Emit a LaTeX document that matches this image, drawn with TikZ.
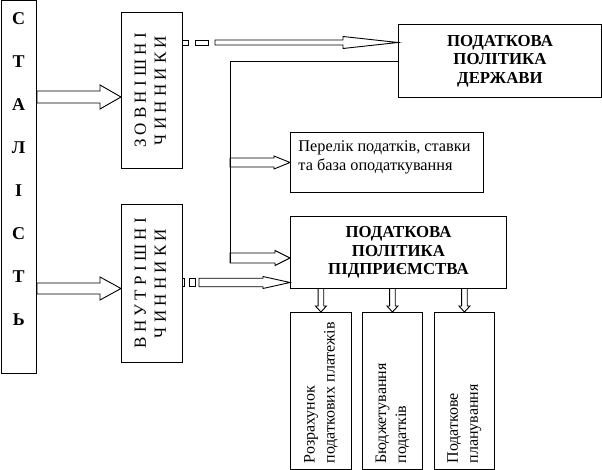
\documentclass[tikz,border=0pt]{standalone}
\usepackage{fontspec}
\usepackage{graphicx}
\setmainfont{Liberation Serif}
\usetikzlibrary{calc}
\begin{document}
\begin{tikzpicture}[x=1pt,y=-1pt,line width=0.9pt,
  box/.style={draw,rectangle,inner sep=0pt,anchor=north west,font=\fontsize{16}{20}\selectfont},
  factorbox/.style={box,font=\fontsize{17}{20}\selectfont},
  boldbox/.style={box,align=center,font=\fontsize{16.8}{18.5}\selectfont\bfseries},
  harrow/.style n args={3}{to path={let \p1=(\tikztostart), \p2=(\tikztotarget) in
     (\x1,\y1+#1pt) -- (\x2-#3pt,\y1+#1pt) -- (\x2-#3pt,\y1+#2pt) -- (\x2,\y1)
     -- (\x2-#3pt,\y1-#2pt) -- (\x2-#3pt,\y1-#1pt) -- (\x1,\y1-#1pt) -- cycle}},
  varrow/.style n args={3}{to path={let \p1=(\tikztostart), \p2=(\tikztotarget) in
     (\x1-#1pt,\y1) -- (\x1-#1pt,\y2+#3pt) -- (\x1-#2pt,\y2+#3pt) -- (\x1,\y2)
     -- (\x1+#2pt,\y2+#3pt) -- (\x1+#1pt,\y2+#3pt) -- (\x1+#1pt,\y1)}},
  piece/.style={draw}
]
\useasboundingbox (0,0) rectangle (602,470);

% left box
\node[box,minimum width=35.5,minimum height=372] (st) at (0.5,0.5)
  {\parbox[c][372pt][t]{35pt}{\fontsize{18}{42.9}\selectfont\bfseries\centering\vspace*{12pt}С\\Т\\А\\Л\\І\\С\\Т\\Ь\par}};

% factor boxes
\node[factorbox,minimum width=61,minimum height=156] (zov) at (121,12)
  {\rotatebox{90}{\begin{tabular}{@{}c@{}}З О В Н І Ш Н І\\Ч И Н Н И К И\end{tabular}}};
\node[factorbox,minimum width=61,minimum height=158] (vnu) at (121,204)
  {\rotatebox{90}{\begin{tabular}{@{}c@{}}В Н У Т Р І Ш Н І\\Ч И Н Н И К И\end{tabular}}};

% policy boxes
\node[boldbox,minimum width=203,minimum height=73] (derzh) at (398,24)
  {ПОДАТКОВА\\ПОЛІТИКА\\ДЕРЖАВИ};
\node[boldbox,minimum width=216,minimum height=72] (pidpr) at (290,216)
  {ПОДАТКОВА\\ПОЛІТИКА\\ПІДПРИЄМСТВА};
\node[box,inner xsep=8pt,inner ysep=8pt] (perelik) at (290,132)
  {\parbox[c][44pt][t]{177pt}{\fontsize{16.3}{19}\selectfont\raggedright Перелік податків, ставки\\та база оподаткування}};

% bottom boxes
\node[box,minimum width=61,minimum height=157] (b1) at (290,312)
  {\rotatebox{90}{\parbox{145pt}{\raggedright Розрахунок\\податкових платежів}}};
\node[box,minimum width=60,minimum height=157] (b2) at (362,312)
  {\rotatebox{90}{\parbox{145pt}{\raggedright Бюджетування\\податків}}};
\node[box,minimum width=60,minimum height=157] (b3) at (434,312)
  {\rotatebox{90}{\parbox{145pt}{\raggedright Податкове\\планування}}};

% arrows from left box
\draw (st.east |- 0,97) to[harrow={6}{12}{21}] (zov.west |- 0,97);
\draw (st.east |- 0,288.5) to[harrow={5.5}{11.5}{21}] (vnu.west |- 0,288.5);

% dashed hollow arrow: external factors -> state policy
\draw[piece] (zov.east |- 0,40) rectangle (188.7,45);
\draw[piece] (195,40) rectangle (208.7,45);
\coordinate (d1) at (215,42.5);
\draw (d1) to[harrow={2.5}{6}{55}] (derzh.west |- d1);

% dashed hollow arrow: internal factors -> enterprise policy
\draw[piece] (vnu.east |- 0,278.5) rectangle (184.5,286.5);
\draw[piece] (189,278.5) rectangle (195,286.5);
\coordinate (d2) at (199,282.5);
\draw (d2) to[harrow={4.2}{6}{27}] (pidpr.west |- d2);

% line from state policy
\coordinate (j1) at (230,61);
\coordinate (j2) at (230,162.5);
\coordinate (j3) at (230,258);
\draw (derzh.west |- j1) -- (j1) -- ($(j3)+(0,5)$);
\draw (j2) to[harrow={4.5}{6.5}{16}] (perelik.west |- j2);
\draw (j3) to[harrow={5}{7.5}{15}] (pidpr.west |- j3);

% down arrows
\draw (pidpr.south -| b1) to[varrow={2.8}{5.5}{6}] (b1.north);
\draw (pidpr.south -| b2) to[varrow={2.8}{5.5}{6}] (b2.north);
\draw (pidpr.south -| b3) to[varrow={2.8}{5.5}{6}] (b3.north);
\end{tikzpicture}
\end{document}
